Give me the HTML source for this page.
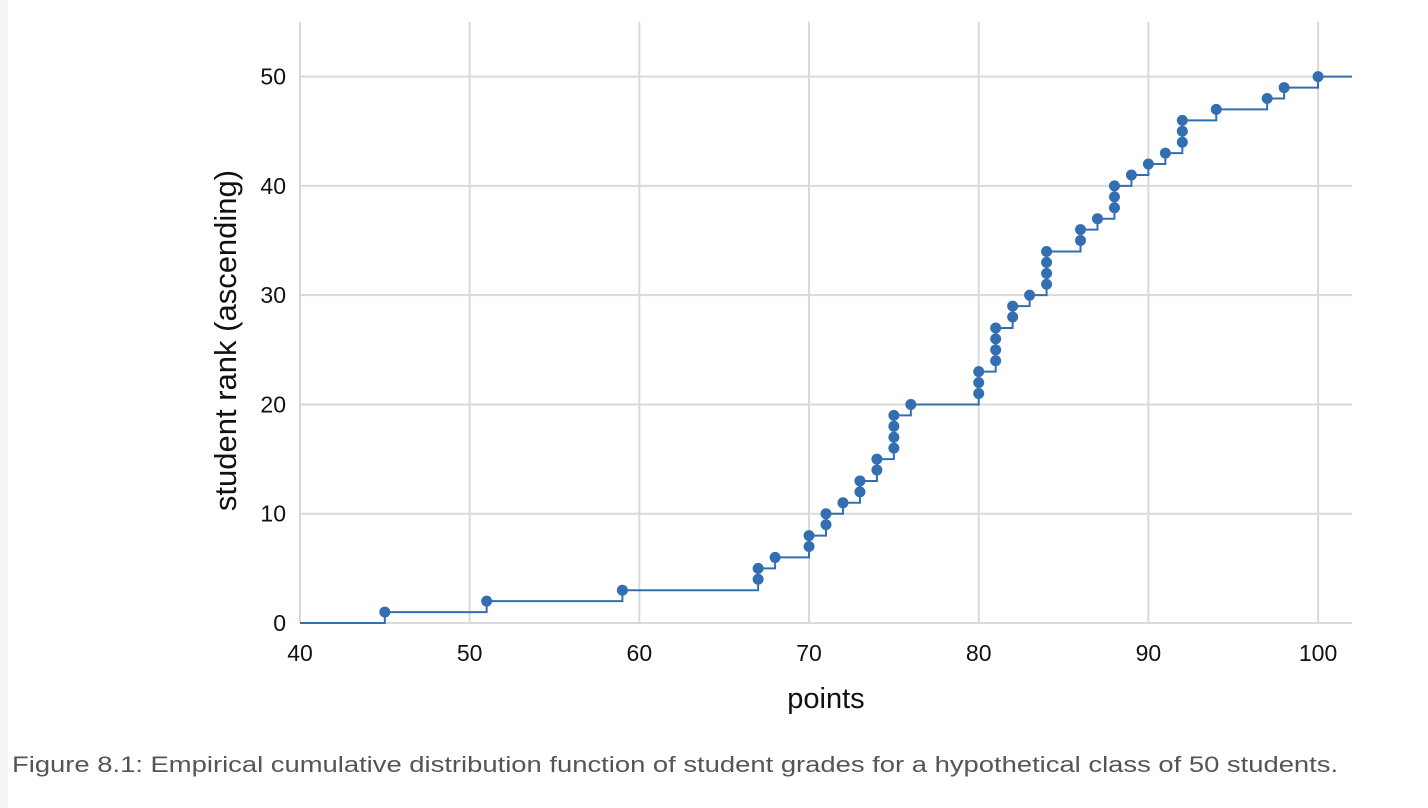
<!DOCTYPE html>
<html><head><meta charset="utf-8"><style>
body{margin:0;background:#fff;width:1428px;height:808px;overflow:hidden;font-family:"Liberation Sans",sans-serif;}
#strip{position:absolute;left:0;top:0;width:8px;height:808px;background:#f4f4f4;}
#caption{position:absolute;left:12px;top:752px;font-size:22px;color:#555;white-space:nowrap;transform:scaleX(1.245);transform-origin:0 0;}
</style></head><body>
<div id="strip"></div>
<svg id="chart" width="1428" height="740" style="position:absolute;left:0;top:0"></svg>
<div id="caption">Figure 8.1: Empirical cumulative distribution function of student grades for a hypothetical class of 50 students.</div>
<script>
const grades=[45,51,59,67,67,68,70,70,71,71,72,73,73,74,74,75,75,75,75,76,80,80,80,81,81,81,81,82,82,83,84,84,84,84,86,86,87,88,88,88,89,90,91,92,92,92,94,97,98,100];
const xTicks=[40,50,60,70,80,90,100];
const yTicks=[0,10,20,30,40,50];
const xMin=40,xMax=102,yMin=0,yMax=55;
const L=300,R=1352,T=22,B=623;
const sx=v=>L+(v-xMin)/(xMax-xMin)*(R-L);
const sy=v=>B-(v-yMin)/(yMax-yMin)*(B-T);
const svg=document.getElementById('chart');
const NS='http://www.w3.org/2000/svg';
function mk(tag,attrs){const e=document.createElementNS(NS,tag);for(const k in attrs)e.setAttribute(k,attrs[k]);svg.appendChild(e);return e;}
xTicks.forEach(t=>{
 const g=mk('line',{x1:sx(t),x2:sx(t),y1:T,y2:B,stroke:'#d9d9d9','stroke-width':2});
 
 
 const tx=mk('text',{x:sx(t),y:B+38,'text-anchor':'middle','font-size':23,fill:'#111'});
 tx.textContent=t;
 
 
});
yTicks.forEach(t=>{
 const g=mk('line',{x1:L,x2:R,y1:sy(t),y2:sy(t),stroke:'#d9d9d9','stroke-width':2});
 
 
 const tx=mk('text',{x:L-14,y:sy(t)+8,'text-anchor':'end','font-size':23,fill:'#111'});
 tx.textContent=t;
 
 
});
let d='M'+sx(xMin)+','+sy(0);
grades.forEach((g,i)=>{d+=' H'+sx(g)+' V'+sy(i+1);});
d+=' H'+sx(xMax);
const p=mk('path',{d:d,fill:'none',stroke:'#336fb0','stroke-width':2});


grades.forEach((g,i)=>{
 const c=mk('circle',{cx:sx(g),cy:sy(i+1),r:5.5,fill:'#336fb0'});
 
 
});
const xt=mk('text',{x:(L+R)/2,y:708,'text-anchor':'middle','font-size':29,fill:'#111'});
xt.textContent='points';


const yt=mk('text',{x:0,y:0,'text-anchor':'middle','font-size':31,fill:'#111',transform:'translate(236,'+((T+B)/2+18)+') rotate(-90)'});
yt.textContent='student rank (ascending)';


</script>
</body></html>
